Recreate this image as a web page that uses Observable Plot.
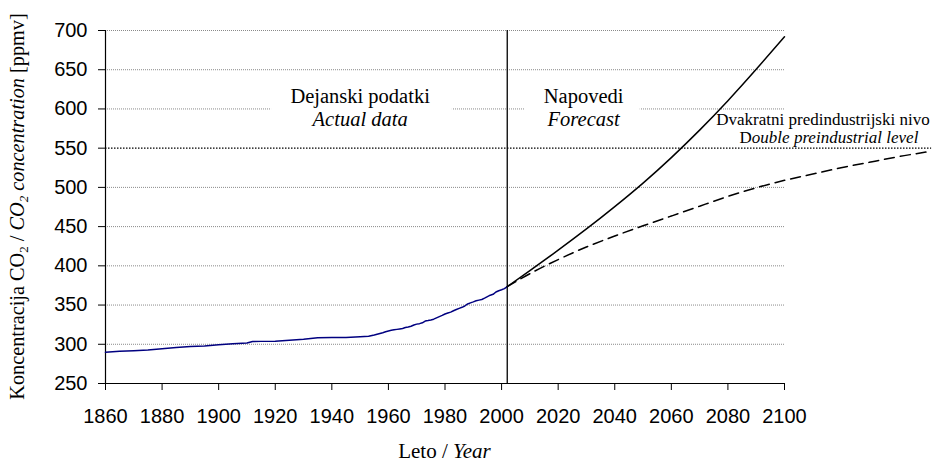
<!DOCTYPE html>
<html><head><meta charset="utf-8">
<script src="https://cdn.jsdelivr.net/npm/d3@7"></script>
<script src="https://cdn.jsdelivr.net/npm/@observablehq/plot@0.6"></script>
<style>html,body{margin:0;padding:0;background:#fff;}</style>
</head><body><div id="chart"></div>
<script>
// Measured CO2 (ice core + Mauna Loa)
const histYears = [1860,1865,1870,1875,1880,1885,1890,1895,1900,1905,1910,1912,1915,1920,1925,1930,1935,1940,1945,1950,1953,1955,1958,1959,1960,1961,1962,1963,1964,1965,1966,1967,1968,1969,1970,1971,1972,1973,1974,1975,1976,1977,1978,1979,1980,1981,1982,1983,1984,1985,1986,1987,1988,1989,1990,1991,1992,1993,1994,1995,1996,1997,1998,1999,2000,2001,2002];
const histValues = [289.7,291,291.6,292.6,294.2,295.8,297.2,297.7,299.3,300.6,301.6,303.6,303.7,303.9,305.1,306.5,308.4,308.5,308.6,309.5,310.2,311.8,314.8,316,317,317.8,318.4,319,319.6,320.1,321.3,322.1,323,324.5,325.7,326.3,327.4,329.6,330.2,331,332,333.7,335.3,336.8,338.6,339.8,341,342.7,344.3,345.8,347.1,348.8,351.4,352.8,354.1,355.5,356.3,357.1,358.8,360.8,362.6,363.7,366.6,368.3,369.5,371,373.5];
// Forecast (solid)
const forecastYears = [2002,2010,2020,2030,2040,2050,2060,2070,2080,2090,2100];
const forecastValues = [373.5,394,420,447,475.5,505.5,538,573,610.5,650.5,692];
// Stabilisation scenario (dashed)
const stabYears = [2002,2010,2020,2030,2040,2050,2060,2070,2080,2090,2100,2110,2120,2130,2140,2150,2152];
const stabValues = [373.5,390,408,424,438,451,463.5,476,488.5,499.5,509,517,525,532,539,545,546];
const xTicks = [1860,1880,1900,1920,1940,1960,1980,2000,2020,2040,2060,2080,2100];
const yTicks = [250,300,350,400,450,500,550,600,650,700];
const gridValues = [300,350,400,450,500,600,650,700];
const doubleLevel = 550;
const doubleLevelEnd = 2152;
const splitYear = 2002;

const hist = histYears.map((x,i)=>({x, y: histValues[i]}));
const fore = forecastYears.map((x,i)=>({x, y: forecastValues[i]}));
const stab = stabYears.map((x,i)=>({x, y: stabValues[i]}));

const serif = "'Liberation Serif','Times New Roman',serif";
const sans = "'Liberation Sans',Arial,sans-serif";

const chart = Plot.plot({
  width: 943, height: 462,
  marginLeft: 105, marginRight: 159, marginTop: 30, marginBottom: 79,
  x: {domain: [1860, 2100]},
  y: {domain: [250, 700]},
  style: {background: "white", color: "black", fontFamily: sans},
  marks: [
    Plot.ruleY(gridValues, {stroke: "#8a8a8a", strokeWidth: 1, strokeDasharray: "1,1"}),
    Plot.rect([{x1: 1918.7, x2: 1982.6, y1: 575, y2: 630}], {x1: "x1", x2: "x2", y1: "y1", y2: "y2", fill: "white"}),
    Plot.rect([{x1: 2008.4, x2: 2049, y1: 575, y2: 630}], {x1: "x1", x2: "x2", y1: "y1", y2: "y2", fill: "white"}),
    Plot.ruleY([doubleLevel], {x1: 1860, x2: doubleLevelEnd, stroke: "black", strokeWidth: 1.3, strokeDasharray: "1.5,1.5"}),
    Plot.ruleX([1860], {stroke: "black", strokeWidth: 1.2}),
    Plot.ruleY([250], {stroke: "black", strokeWidth: 1.2}),
    Plot.axisX({ticks: xTicks, tickSize: 7, tickPadding: 18, fontSize: 20, fontFamily: sans, tickFormat: d => String(d), label: null}),
    Plot.axisY({ticks: yTicks, tickSize: 7, tickPadding: 11, fontSize: 20, fontFamily: sans, tickFormat: d => String(d), label: null}),
    Plot.line(stab, {x: "x", y: "y", stroke: "black", strokeWidth: 1.5, strokeDasharray: "10,6", curve: "natural"}),
    Plot.line(fore, {x: "x", y: "y", stroke: "black", strokeWidth: 1.5, curve: "natural"}),
    Plot.line(hist, {x: "x", y: "y", stroke: "#000080", strokeWidth: 1.5}),
    Plot.ruleX([splitYear], {y1: 250, y2: 700, stroke: "black", strokeWidth: 1.3}),
    Plot.text(["Dejanski podatki"], {x: 1950, y: 608, text: d => d, fontSize: 20.5, fontFamily: serif, lineAnchor: "bottom", fill: "black"}),
    Plot.text(["Actual data"], {x: 1950, y: 578.5, text: d => d, fontSize: 20.5, fontFamily: serif, fontStyle: "italic", lineAnchor: "bottom", fill: "black"}),
    Plot.text(["Napovedi"], {x: 2029, y: 608, text: d => d, fontSize: 20.5, fontFamily: serif, lineAnchor: "bottom", fill: "black"}),
    Plot.text(["Forecast"], {x: 2029, y: 578.5, text: d => d, fontSize: 20.5, fontFamily: serif, fontStyle: "italic", lineAnchor: "bottom", fill: "black"}),
    Plot.text(["Dvakratni predindustrijski nivo"], {x: 2113.6, y: 579, text: d => d, fontSize: 17, fontFamily: serif, lineAnchor: "bottom", fill: "black"})
  ]
});
document.getElementById("chart").appendChild(chart);

const svg = d3.select(chart);
const sx = chart.scale("x"), sy = chart.scale("y");

// "Double preindustrial level" (mixed upright / italic)
const dbl = svg.append("text")
  .attr("x", sx.apply(2115.9)).attr("y", sy.apply(556.4))
  .attr("text-anchor", "middle").attr("font-family", serif).attr("font-size", 17).attr("fill", "black");
dbl.append("tspan").text("D");
dbl.append("tspan").attr("font-style", "italic").text("ouble preindustrial level");

// x axis title
const xl = svg.append("text")
  .attr("x", (sx.apply(1860) + sx.apply(2100)) / 2).attr("y", 458)
  .attr("text-anchor", "middle").attr("font-family", serif).attr("font-size", 21).attr("fill", "black");
xl.append("tspan").text("Leto / ");
xl.append("tspan").attr("font-style", "italic").text("Year");

// y axis title
const cy = (sy.apply(250) + sy.apply(700)) / 2;
const yl = svg.append("text")
  .attr("transform", "rotate(-90)")
  .attr("x", -cy).attr("y", 23.5)
  .attr("text-anchor", "middle").attr("font-family", serif).attr("font-size", 20.3).attr("fill", "black");
yl.append("tspan").text("Koncentracija CO");
yl.append("tspan").attr("font-size", 13).attr("dy", 4).text("2");
yl.append("tspan").attr("dy", -4).text(" / ");
yl.append("tspan").attr("font-style", "italic").text("CO");
yl.append("tspan").attr("font-style", "italic").attr("font-size", 13).attr("dy", 4).text("2");
yl.append("tspan").attr("font-style", "italic").attr("dy", -4).text(" concentration ");
yl.append("tspan").text("[ppmv]");
</script>
</body></html>
